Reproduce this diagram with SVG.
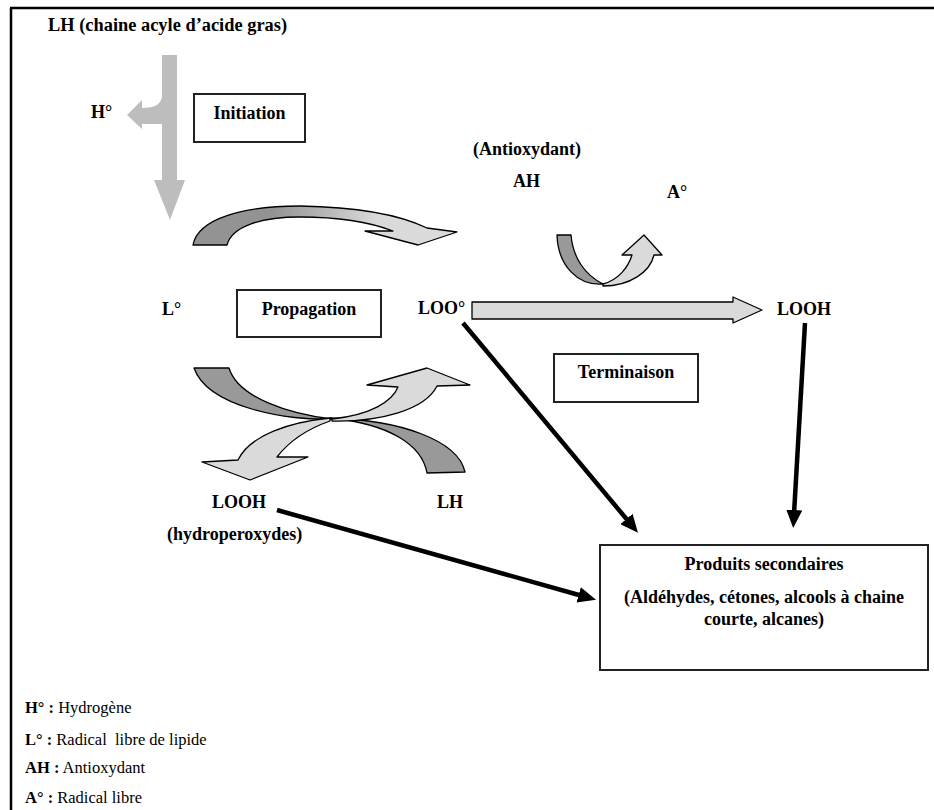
<svg xmlns="http://www.w3.org/2000/svg" width="934" height="810" viewBox="0 0 934 810">
<style>
.t{font-family:"Liberation Serif","Times New Roman",serif;font-weight:bold;font-size:18px;fill:#000}
.c{text-anchor:middle}
.lg{font-family:"Liberation Serif","Times New Roman",serif;font-size:16.5px;fill:#000}
.lg tspan.b{font-weight:bold}
.box{fill:#fff;stroke:#222;stroke-width:2}
.dk{fill:#999;stroke:#000;stroke-width:1.3;stroke-linejoin:round}
.lt{fill:#dadada;stroke:#000;stroke-width:1.3;stroke-linejoin:round}
.con{stroke:#000;stroke-width:4.5;fill:none;marker-end:url(#ah)}
</style>
<defs>
<marker id="ah" markerUnits="userSpaceOnUse" markerWidth="18" markerHeight="16" refX="4" refY="8" orient="auto">
<path d="M0,0 L18,8 L0,16 Z" fill="#000"/>
</marker>
<linearGradient id="g1" x1="0" y1="0" x2="1" y2="0">
<stop offset="0.3" stop-color="#939393"/>
<stop offset="0.7" stop-color="#dadada"/>
</linearGradient>
</defs>
<rect width="934" height="810" fill="#fff"/>
<path d="M10,8 H934 M11,8 V810" stroke="#000" stroke-width="2.5" fill="none"/>

<g id="title"><text class="t" x="48" y="31" style="font-size:18.4px">LH (chaine acyle d’acide gras)</text></g>

<g id="initiation-arrow">
<path d="M162,55 H177 V180 H185 L170,220 L154,180 H162 V124 H142 V129 L127,115 L142,100 V108 C155,108 162,104 162,95 Z" fill="#bdbdbd"/>
</g>
<g id="H"><text class="t" x="91" y="118">H°</text></g>
<g id="initiation"><rect class="box" x="194" y="94" width="111" height="48"/><text class="t c" x="249.5" y="119">Initiation</text></g>

<g id="top-arc">
<path d="M193,245 C198,218 245,206 300,206 C360,207 400,215 427,228 L457,232 L418,245 L365,231 L393,231 C372,223 340,217 300,217 C262,217 232,226 227,245 Z" fill="url(#g1)" stroke="#000" stroke-width="1.3" stroke-linejoin="round"/>
</g>

<g id="L"><text class="t" x="162" y="315">L°</text></g>
<g id="propagation"><rect class="box" x="237" y="290" width="144" height="47"/><text class="t c" x="309" y="315">Propagation</text></g>
<g id="LOO"><text class="t" x="418" y="314">LOO°</text></g>

<g id="cross-arrows">
<path class="dk" d="M194,368 L229,368 C238,398 290,414 332,419 C290,421 208,408 194,368 Z"/>
<path class="dk" d="M465,472 C458,440 400,420 330,418 C390,424 422,445 427,473 Z"/>
<path class="lt" d="M332,419 C370,415 392,402 398,387 L367,385 L427,368 L470,385 L437,386 C425,410 380,422 332,421 Z"/>
<path class="lt" d="M330,418 C290,422 250,435 238,460 L202,462 L250,480 L308,457 L277,457 C290,440 310,428 330,421 Z"/>
</g>

<g id="LOOH1"><text class="t" x="212" y="508">LOOH</text><text class="t" x="167" y="540">(hydroperoxydes)</text></g>
<g id="LH2"><text class="t" x="437" y="508">LH</text></g>

<g id="antiox"><text class="t" x="473" y="155">(Antioxydant)</text><text class="t" x="513" y="187">AH</text></g>
<g id="A"><text class="t" x="667" y="198">A°</text></g>

<g id="u-arrow">
<path class="dk" d="M557,235 L571,235 C573,258 585,275 603,284 C578,286 558,266 557,235 Z"/>
<path class="lt" d="M603,286 C630,286 650,272 654,255 L662,255 L644,235 L622,255 L632,255 C628,268 618,280 603,284 Z"/>
</g>

<g id="term-arrow">
<path class="lt" d="M472,302 H733 V297 L762,310 L733,323 V319 H472 Z" stroke-width="1.6"/>
</g>
<g id="LOOH2"><text class="t" x="777" y="315">LOOH</text></g>
<g id="terminaison"><rect class="box" x="554" y="354" width="144" height="48"/><text class="t c" x="626" y="378">Terminaison</text></g>

<g id="produits">
<rect class="box" x="600" y="545" width="328" height="125"/>
<text class="t c" x="764" y="570">Produits secondaires</text>
<text class="t c" x="764" y="603">(Aldéhydes, cétones, alcools à chaine</text>
<text class="t c" x="764" y="625">courte, alcanes)</text>
</g>

<g id="connectors">
<line class="con" x1="463" y1="323" x2="629" y2="522"/>
<line class="con" x1="805" y1="323" x2="794" y2="514"/>
<line class="con" x1="277" y1="510" x2="582.5" y2="596"/>
</g>

<g id="legend">
<text class="lg" x="25" y="713"><tspan class="b">H° :</tspan> Hydrogène</text>
<text class="lg" x="25" y="745" xml:space="preserve"><tspan class="b">L° :</tspan> Radical  libre de lipide</text>
<text class="lg" x="25" y="773"><tspan class="b">AH :</tspan> Antioxydant</text>
<text class="lg" x="25" y="803"><tspan class="b">A° :</tspan> Radical libre</text>
</g>
</svg>
